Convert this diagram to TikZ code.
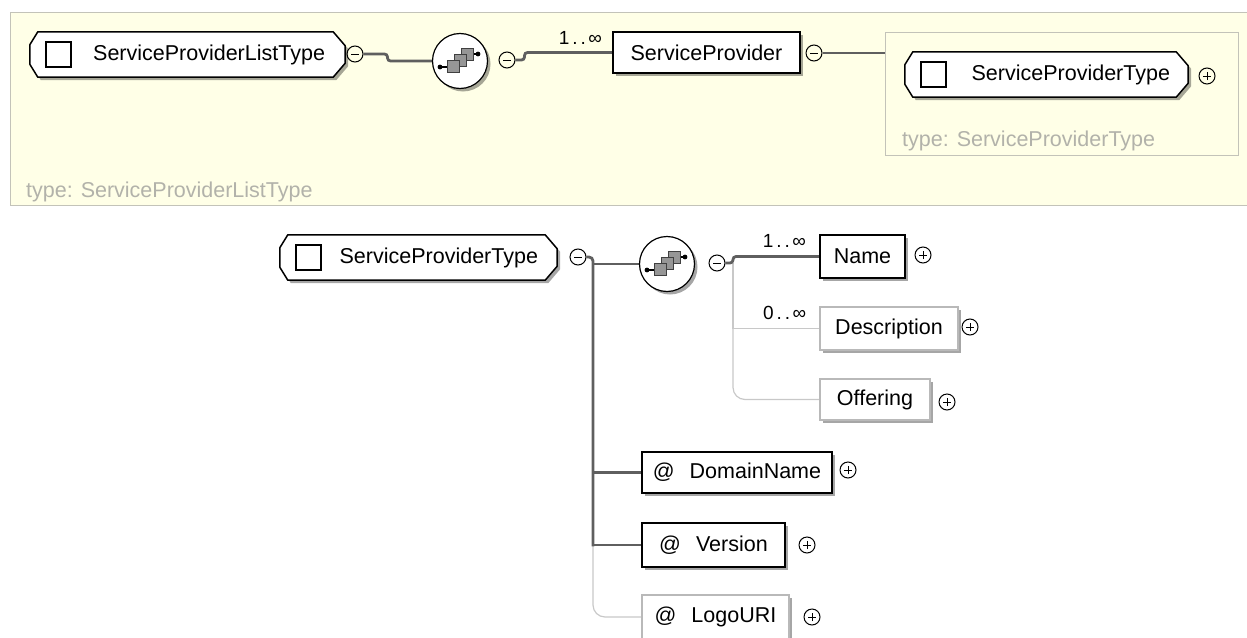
\documentclass[tikz,border=0pt]{standalone}
\usepackage{fontspec}
\setmainfont{Liberation Sans}
\usetikzlibrary{shadows,calc}
\pgfdeclarelayer{back}
\pgfsetlayers{back,main}
\definecolor{panelbg}{RGB}{255,255,231}
\definecolor{panelline}{RGB}{195,195,185}
\definecolor{typetext}{RGB}{178,178,170}
\definecolor{boldline}{RGB}{95,95,95}
\definecolor{lightline}{RGB}{200,200,200}
\definecolor{lightbox}{RGB}{185,185,185}
\definecolor{seqfill}{RGB}{150,150,150}
\tikzset{
  x=1pt, y=-1pt,
  txt/.style={font=\fontsize{21.5}{24}\selectfont},
  lab/.style={font=\fontsize{19}{21}\selectfont, inner sep=0pt, anchor=base east},
  typetxt/.style={font=\fontsize{21.5}{24}\selectfont, text=typetext, inner sep=0pt, anchor=west},
  shad/.style={drop shadow={shadow xshift=3pt, shadow yshift=-3pt, opacity=0.35, fill=black}},
  reqbox/.style={txt, draw=black, line width=1.6pt, fill=white, shad, inner sep=0pt},
  optbox/.style={txt, draw=lightbox, line width=1.2pt, fill=white, shad, inner sep=0pt},
  ctype/.style={txt, inner sep=0pt, align=right},
  octa/.style={draw=black, line width=1.5pt, fill=white, shad},
  sqbox/.style={draw=black, line width=1.5pt, fill=white},
  seqnode/.style={circle, draw=black, line width=1.2pt, fill=white, minimum size=55pt, inner sep=0pt, shad},
  minusc/.style={circle, draw=black, line width=1pt, minimum size=16pt, inner sep=0pt,
    path picture={\draw[line width=1pt] ([xshift=-4pt]path picture bounding box.center) -- ([xshift=4pt]path picture bounding box.center);}},
  plusc/.style={circle, draw=black, line width=1pt, minimum size=16pt, inner sep=0pt,
    path picture={\draw[line width=1pt] ([xshift=-4pt]path picture bounding box.center) -- ([xshift=4pt]path picture bounding box.center)
      ([yshift=-4pt]path picture bounding box.center) -- ([yshift=4pt]path picture bounding box.center);}},
  conn/.style={draw=boldline, line width=2.8pt},
  optconn/.style={draw=lightline, line width=1.2pt},
  frame/.style={draw=panelline, line width=1pt, inner sep=0pt},
}
\newcommand\ctshape[1]{%
  \begin{pgfonlayer}{back}
  \draw[octa] ([xshift=8pt]#1.north west) -- ([xshift=-12pt]#1.north east) -- ([yshift=-14pt]#1.north east)
    -- ([yshift=14pt]#1.south east) -- ([xshift=-12pt]#1.south east) -- ([xshift=8pt]#1.south west)
    -- ([yshift=13pt]#1.south west) -- ([yshift=-13pt]#1.north west) -- cycle;
  \end{pgfonlayer}
  \draw[sqbox] ([xshift=16pt,yshift=-12.5pt]#1.west) rectangle ([xshift=41pt,yshift=12.5pt]#1.west);
}
\newcommand\seqicon[1]{%
  \begin{scope}[shift={(#1.center)}]
    \draw[line width=1.1pt] (-20,6) -- (-7,6);
    \draw[line width=1.1pt] (7,-7) -- (18,-7);
    \fill (-20,6) circle (2.4pt);
    \fill (18,-7) circle (2.4pt);
    \foreach \dx/\dy in {7/-7,0/-1,-7/5}
      \draw[fill=seqfill, draw=black!75, line width=0.8pt] ({\dx-6},{\dy-6}) rectangle ({\dx+6},{\dy+6});
  \end{scope}}
\begin{document}
\begin{tikzpicture}
\useasboundingbox (0,0) rectangle (1247,637);
% top panel
\begin{pgfonlayer}{back}
  \fill[panelbg] (10,12) rectangle (1250,205);
  \draw[panelline, line width=1pt] (1250,12) -- (10,12) -- (10,205) -- (1250,205);
\end{pgfonlayer}

% ---------- top diagram ----------
\node[ctype, minimum width=315pt, minimum height=45pt, text width=275pt] (splt) at (187.5,54.5) {ServiceProviderListType};
\ctshape{splt}
\node[minusc] (m1) at (355,54) {};
\node[seqnode] (seq1) at (460,61) {};
\seqicon{seq1}
\node[minusc] (m2) at (507,60) {};
\node[reqbox, minimum width=187pt, minimum height=41pt] (sp) at (706.5,52.5) {ServiceProvider};
\node[lab] (l1) at ([xshift=-10pt,yshift=8pt]sp.west) {1\kern3pt.\kern3pt.\kern2.5pt∞};
\node[minusc] (m3) at (814,53) {};
\node[frame, minimum width=353pt, minimum height=123pt] (fr) at (1061.5,93.5) {};
\node[ctype, minimum width=283pt, minimum height=45pt, text width=247pt] (spt1) at (1046.5,74.5) {ServiceProviderType};
\ctshape{spt1}
\node[plusc] (p1) at (1207,76) {};
\node[typetxt] (t1) at (902,141) {type: ServiceProviderType};
\node[typetxt] (t2) at (26,192) {type: ServiceProviderListType};

% ---------- bottom diagram ----------
\node[ctype, minimum width=277pt, minimum height=45pt, text width=239pt] (spt2) at (418.5,257.5) {ServiceProviderType};
\ctshape{spt2}
\node[minusc] (m4) at (578,257) {};
\coordinate (trk) at (593,257);
\node[seqnode] (seq2) at (667,264) {};
\seqicon{seq2}
\node[minusc] (m5) at (717,263) {};
\coordinate (br) at (733,263);
\node[reqbox, minimum width=85pt, minimum height=43pt] (name) at (862.5,256.5) {Name};
\node[lab] (l2) at ([xshift=-13pt,yshift=9pt]name.west) {1\kern3pt.\kern3pt.\kern2.5pt∞};
\node[plusc] (p2) at (923,255) {};
\node[optbox, minimum width=138pt, minimum height=43pt] (desc) at (889,328.5) {Description};
\node[lab] (l3) at ([xshift=-13pt,yshift=9pt]desc.west) {0\kern3pt.\kern3pt.\kern2.5pt∞};
\node[plusc] (p3) at (970,327) {};
\node[optbox, minimum width=110pt, minimum height=41pt] (off) at (875,399.5) {Offering};
\node[plusc] (p4) at (947,402) {};
\node[reqbox, minimum width=190pt, minimum height=41pt] (dn) at (737,472.5) {@\hspace{15pt}DomainName};
\node[plusc] (p5) at (848,470) {};
\node[reqbox, minimum width=143pt, minimum height=44pt] (ver) at (713.5,545) {@\hspace{15pt}Version};
\node[plusc] (p6) at (807,545) {};
\node[optbox, minimum width=147pt, minimum height=44pt] (logo) at (715.5,617) {@\hspace{15pt}LogoURI};
\node[plusc] (p7) at (812,617) {};

% ---------- connectors ----------
\begin{pgfonlayer}{back}
  \draw[conn, rounded corners=3pt] (m1.east) -- ++(24,0) |- (seq1.west);
  \draw[conn, rounded corners=3pt] (m2.east) -- ++(9,0) |- (sp.west);
  \draw[conn] (m3.east) -- (m3.east -| fr.west);

  \draw[optconn, rounded corners=12pt] (trk |- ver.west) -- (trk |- logo.west) -- (logo.west);
  \draw[conn, rounded corners=4pt] (m4.east) -- (trk) -- ([yshift=-1.4pt]trk |- ver.west);
  \draw[conn] (trk |- ver.west) -- (ver.west);
  \draw[conn] (trk |- seq2.west) -- (seq2.west);
  \draw[conn] (trk |- dn.west) -- (dn.west);

  \draw[optconn] (br) |- (desc.west);
  \draw[optconn, rounded corners=12pt] (br) |- (off.west);
  \draw[conn, rounded corners=3pt] (m5.east) -- (br) |- (name.west);
\end{pgfonlayer}
\end{tikzpicture}
\end{document}
